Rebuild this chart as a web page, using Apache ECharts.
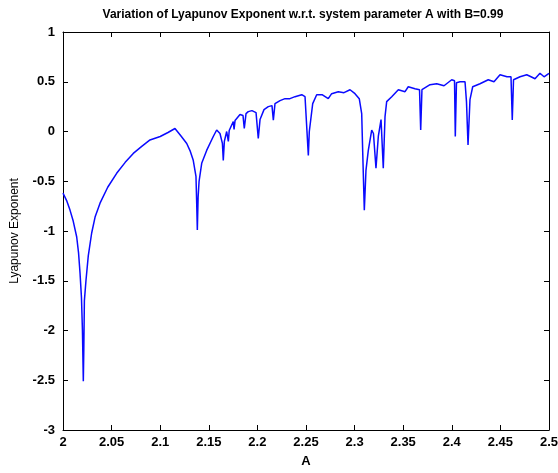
<!DOCTYPE html>
<html>
<head>
<meta charset="utf-8">
<script src="https://cdn.jsdelivr.net/npm/echarts@6/dist/echarts.min.js"></script>
<style>
  html, body { margin: 0; padding: 0; background: #fff; }
  #chart { width: 558px; height: 473px; }
</style>
</head>
<body>
<div id="chart"></div>
<script>
"use strict";

// parameter A (x) and the Lyapunov exponent
var aValues = [
    2.0000, 2.0040, 2.0072, 2.0105, 2.0141, 2.0160, 2.0175, 2.0190, 2.0200, 2.0209,
    2.0214, 2.0220, 2.0237, 2.0260, 2.0295, 2.0330, 2.0381, 2.0460, 2.0552, 2.0640,
    2.0723, 2.0810, 2.0895, 2.1000, 2.1080, 2.1152, 2.1210, 2.1273, 2.1310, 2.1340,
    2.1368, 2.1375, 2.1382, 2.1390, 2.1400, 2.1427, 2.1478, 2.1546, 2.1581, 2.1615,
    2.1640, 2.1649, 2.1660, 2.1684, 2.1701, 2.1710, 2.1752, 2.1760, 2.1770, 2.1821,
    2.1852, 2.1865, 2.1883, 2.1906, 2.1944, 2.1986, 2.2009, 2.2027, 2.2068, 2.2112,
    2.2150, 2.2164, 2.2181, 2.2233, 2.2284, 2.2335, 2.2387, 2.2456, 2.2490, 2.2506,
    2.2524, 2.2534, 2.2551, 2.2569, 2.2610, 2.2665, 2.2729, 2.2764, 2.2832, 2.2891,
    2.2953, 2.3004, 2.3048, 2.3073, 2.3083, 2.3100, 2.3117, 2.3141, 2.3176, 2.3194,
    2.3220, 2.3244, 2.3272, 2.3295, 2.3313, 2.3330, 2.3382, 2.3450, 2.3519, 2.3552,
    2.3621, 2.3668, 2.3680, 2.3693, 2.3776, 2.3845, 2.3920, 2.3999, 2.4028, 2.4036,
    2.4048, 2.4084, 2.4136, 2.4151, 2.4167, 2.4187, 2.4215, 2.4290, 2.4375, 2.4434,
    2.4496, 2.4568, 2.4609, 2.4622, 2.4635, 2.4702, 2.4771, 2.4815, 2.4856, 2.4907,
    2.4949, 2.5000
];
var lyapValues = [
    -0.62, -0.70, -0.79, -0.90, -1.06, -1.22, -1.42, -1.67, -2.00, -2.51,
    -2.20, -1.70, -1.49, -1.25, -1.02, -0.86, -0.72, -0.56, -0.42, -0.31,
    -0.22, -0.15, -0.085, -0.05, -0.01, 0.03, -0.04, -0.12, -0.20, -0.29,
    -0.45, -0.70, -0.99, -0.66, -0.50, -0.32, -0.19, -0.05, 0.015, -0.02,
    -0.12, -0.29, -0.10, 0.00, -0.10, 0.01, 0.10, 0.02, 0.11, 0.17,
    0.16, 0.03, 0.18, 0.20, 0.21, 0.19, -0.07, 0.12, 0.22, 0.25,
    0.26, 0.115, 0.28, 0.31, 0.33, 0.33, 0.35, 0.37, 0.35, 0.33,
    -0.24, 0.00, 0.02, 0.28, 0.37, 0.37, 0.33, 0.38, 0.40, 0.39,
    0.42, 0.38, 0.33, 0.18, -0.19, -0.79, -0.39, -0.19, 0.015, -0.02,
    -0.37, -0.05, 0.12, -0.37, 0.15, 0.30, 0.35, 0.42, 0.40, 0.45,
    0.43, 0.42, 0.015, 0.42, 0.47, 0.48, 0.46, 0.52, 0.51, -0.05,
    0.49, 0.50, 0.50, 0.30, -0.135, 0.32, 0.45, 0.48, 0.52, 0.50,
    0.57, 0.55, 0.55, 0.115, 0.52, 0.55, 0.57, 0.55, 0.53, 0.585,
    0.55, 0.585
];

var titleText = 'Variation of Lyapunov Exponent w.r.t. system parameter A with B=0.99';
var xName = 'A';
var yName = 'Lyapunov Exponent';

var seriesData = aValues.map(function (a, i) { return [a, lyapValues[i]]; });

function tickFmt(v) { return String(parseFloat(v.toFixed(2))); }

var fontFam = '"Liberation Sans", Arial, sans-serif';
var axisBase = {
    type: 'value',
    axisLine: { show: true, onZero: false, lineStyle: { color: '#000', width: 1 } },
    axisTick: { show: true, inside: true, length: 5, lineStyle: { color: '#000' } },
    splitLine: { show: false }
};

var chart = echarts.init(document.getElementById('chart'), null, { renderer: 'canvas' });

var option = {
    animation: false,
    backgroundColor: '#fff',
    title: {
        text: titleText,
        left: 298,
        textAlign: 'center',
        top: 4,
        textStyle: { fontFamily: fontFam, fontSize: 12, fontWeight: 'bold', color: '#000' }
    },
    grid: { left: 63, right: 9, top: 32, bottom: 43, containLabel: false, outerBoundsMode: 'none' },
    xAxis: [
        Object.assign({}, axisBase, {
            min: 2, max: 2.5, interval: 0.05, position: 'bottom',
            name: xName, nameLocation: 'middle', nameGap: 25,
            nameTextStyle: { fontFamily: fontFam, fontSize: 13, fontWeight: 'bold', color: '#000' },
            axisLabel: { fontFamily: fontFam, fontSize: 13, fontWeight: 'bold', color: '#000', margin: 6, formatter: tickFmt }
        }),
        Object.assign({}, axisBase, {
            min: 2, max: 2.5, interval: 0.05, position: 'top',
            axisLabel: { show: false }
        })
    ],
    yAxis: [
        Object.assign({}, axisBase, {
            min: -3, max: 1, interval: 0.5, position: 'left',
            name: yName, nameLocation: 'middle', nameGap: 42,
            nameTextStyle: { fontFamily: fontFam, fontSize: 12, color: '#000' },
            axisLabel: { fontFamily: fontFam, fontSize: 13, fontWeight: 'bold', color: '#000', margin: 8, formatter: tickFmt }
        }),
        Object.assign({}, axisBase, {
            min: -3, max: 1, interval: 0.5, position: 'right',
            axisLabel: { show: false }
        })
    ],
    series: [
        {
            type: 'line',
            data: seriesData,
            showSymbol: false,
            symbol: 'none',
            lineStyle: { color: '#0a0aff', width: 1.5 },
            xAxisIndex: 0,
            yAxisIndex: 0
        }
    ]
};

chart.setOption(option);
</script>
</body>
</html>
